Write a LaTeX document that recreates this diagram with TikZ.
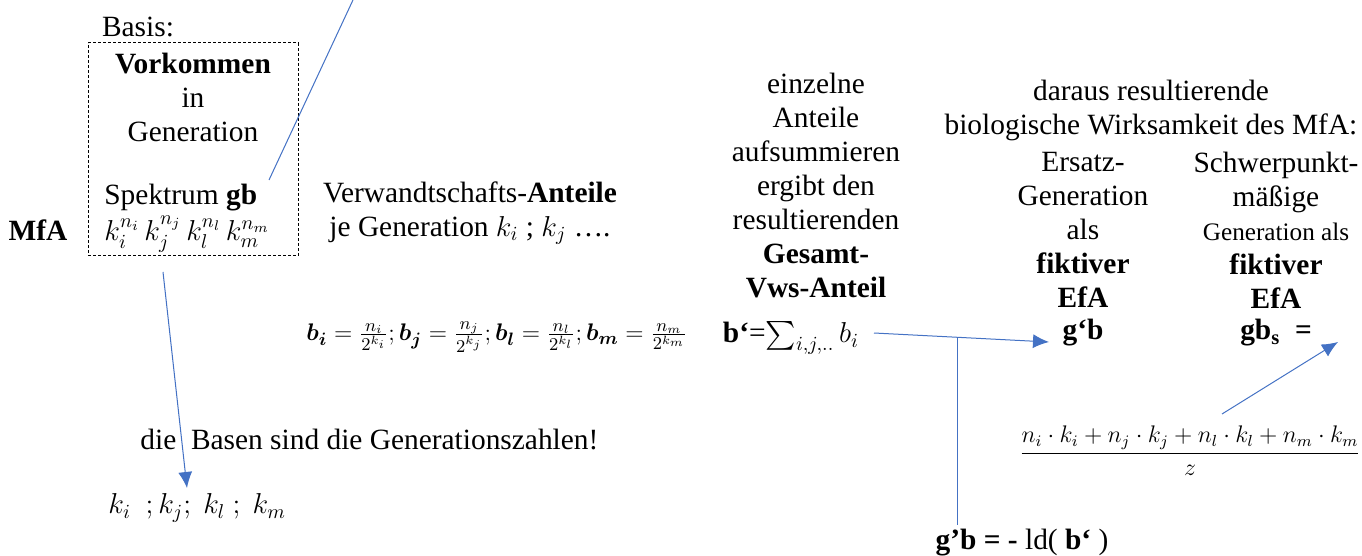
\documentclass[tikz,border=0pt]{standalone}
\usepackage{amsmath}
\usepackage{bm}
\usepackage{fontspec}
\setmainfont{Liberation Serif}
\usetikzlibrary{arrows.meta}
\definecolor{lineblue}{HTML}{4472C4}
\tikzset{
  txt/.style={font=\fontsize{14.7}{17}\selectfont, inner sep=0pt, align=center},
  arr/.style={draw=lineblue, line width=0.5pt, -{Latex[length=8pt,width=7pt]}},
  ln/.style={draw=lineblue, line width=0.5pt},
  dbox/.style={draw, line width=0.5pt, dash pattern=on 1.5pt off 1pt, inner sep=0pt}
}
\begin{document}
\begin{tikzpicture}[x=0.5pt,y=-0.5pt]
\useasboundingbox (0,0) rectangle (1362,556);
% left part
\node[txt] (basis) at (138,27) {Basis:};
\node[dbox, minimum width=105pt, minimum height=106.5pt] (box) at (193,149.5) {};
\node[txt] (vork) at (193,97) {\textbf{Vorkommen}\\in\\Generation};
\node[txt, anchor=west] (spek) at (104,198) {Spektrum \textbf{gb}};
\node[txt, anchor=west] (kpow) at (104,234) {$k_i^{n_i}\,k_j^{n_j}\,k_l^{n_l}\,k_m^{n_m}$};
\node[txt] (mfa) at (38,230) {\textbf{MfA}};
\coordinate (gbs) at (269,180);
\coordinate (gbe) at (353,0);
\draw[ln] (gbs) -- (gbe);
\coordinate (bxs) at (163,272);
\coordinate (kt) at (187,488);
\draw[arr] (bxs) -- (kt);
\node[txt] (verw) at (470,213) {Verwandtschafts-\textbf{Anteile}\\je Generation $k_i$ ; $k_j$ ….};
\node[txt, font=\fontsize{12.3}{15}\selectfont] (bform) at (497,337) {$\bm{b_i}=\frac{n_i}{2^{k_i}};\bm{b_j}=\frac{n_j}{2^{k_j}};\bm{b_l}=\frac{n_l}{2^{k_l}};\bm{b_m}=\frac{n_m}{2^{k_m}}$};
\node[txt, anchor=west] (basen) at (140,440) {die\ \ Basen sind die Generationszahlen!};
\node[txt, anchor=west] (klist) at (108,508) {$k_i\ \ ;k_j;\ k_l\ ;\ k_m$};
% middle column
\node[txt] (einz) at (816,186) {einzelne\\Anteile\\aufsummieren\\ergibt den\\resultierenden\\\textbf{Gesamt-}\\\textbf{Vws-Anteil}};
\node[txt] (bsum) at (791,338) {\textbf{b‘}=$\sum_{i,j,..} b_i$};
\coordinate (hs) at (874,333);
\coordinate (hj) at (957,337.3);
\coordinate (vb) at (957,525);
% right part
\node[txt] (dar) at (1151,110.5) {daraus resultierende\\biologische Wirksamkeit des MfA:};
\node[txt] (ers) at (1083,230) {Ersatz-\\Generation\\als\\\textbf{fiktiver}\\\textbf{EfA}};
\node[txt] (gb1) at (1083,333) {\textbf{g‘b}};
\node[txt] (schw) at (1276,230) {Schwerpunkt-\\mäßige\\{\fontsize{12.6}{17}\selectfont Generation als}\\\textbf{fiktiver}\\\textbf{EfA}};
\node[txt] (gb2) at (1276,333) {\textbf{gb}\textsubscript{\textbf{s}}\ \ \textbf{=}};
\coordinate (at) at (1049,342);
\draw[arr] (hs) -- (at);
\draw[ln] (hj) -- (vb);
\node[txt, font=\fontsize{12}{15}\selectfont] (frac) at (1190,451) {$\dfrac{n_i\cdot k_i+n_j\cdot k_j+n_l\cdot k_l+n_m\cdot k_m}{z}$};
\coordinate (fs) at (1222,414);
\coordinate (ft) at (1338,342);
\draw[arr] (fs) -- (ft);
\node[txt] (ld) at (1022,543) {\textbf{g’b = -} ld( \textbf{b‘} )};
\end{tikzpicture}
\end{document}
